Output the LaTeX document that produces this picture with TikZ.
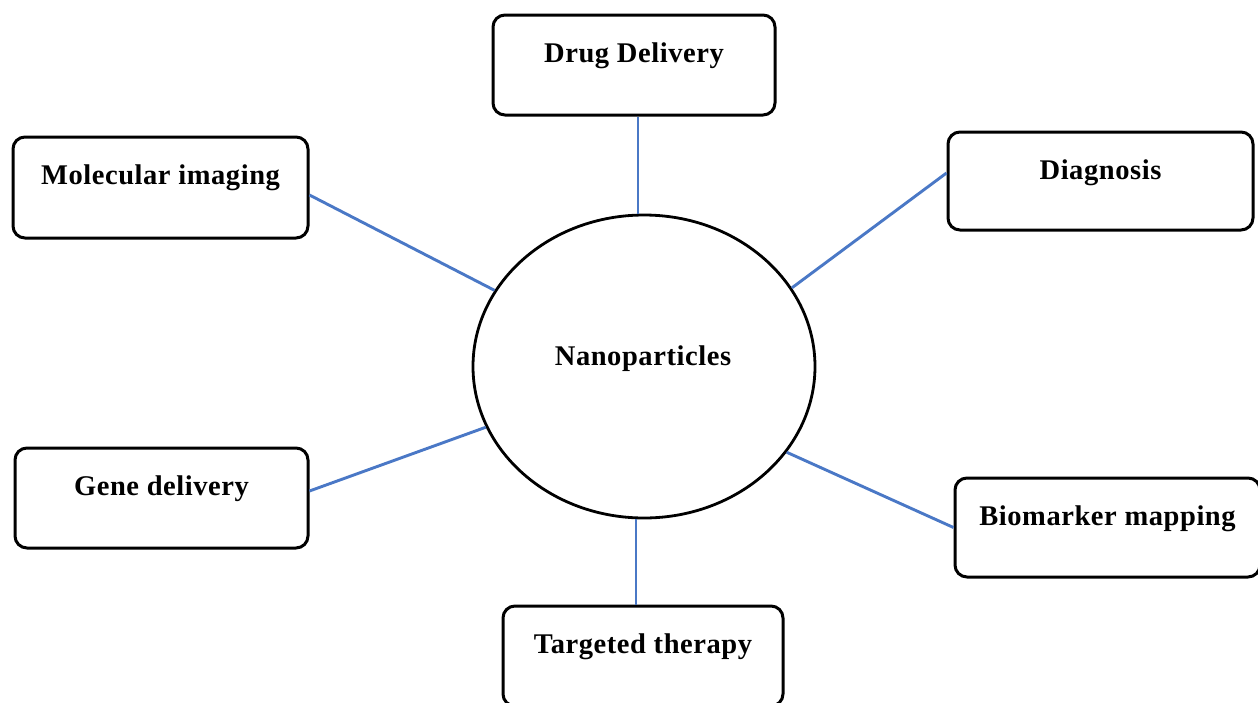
\documentclass[tikz,border=0pt]{standalone}
\usepackage{fontspec}
\setmainfont{Liberation Serif}[LetterSpace=2]
\usetikzlibrary{shapes.geometric}
\definecolor{linkblue}{HTML}{4A78C6}
\tikzset{
  box/.style={draw=black, line width=3pt, rounded corners=12pt, fill=white,
    minimum width=#1, minimum height=100pt, inner sep=0pt},
  lbl/.style={anchor=base, yshift=-49pt, inner sep=0pt,
    font=\fontsize{28.5}{30}\selectfont\bfseries},
  link/.style={draw=linkblue, line width=2.9pt},
}
\begin{document}
\begin{tikzpicture}[x=1pt,y=-1pt]
\useasboundingbox (0,0) rectangle (1258,702);
\clip (0,0) rectangle (1258,702);
% centre
\node[draw=black, line width=2.8pt, ellipse, minimum width=342pt, minimum height=303pt, inner sep=0pt] (np) at (644,366.5) {};
\node[font=\fontsize{28.5}{30}\selectfont\bfseries, anchor=base, inner sep=0pt] (nptext) at (643,365) {Nanoparticles};
% boxes
\node[box=282pt, label={[lbl]north:Drug Delivery}] (drug) at (634,65) {};
\node[box=295pt, minimum height=101pt, label={[lbl]north:Molecular imaging}] (mol) at (160.5,187.5) {};
\node[box=305pt, minimum height=98pt, label={[lbl]north:Diagnosis}] (diag) at (1100.5,181) {};
\node[box=293pt, label={[lbl]north:Gene delivery}] (gene) at (161.5,498) {};
\node[box=305pt, minimum height=99pt, label={[lbl]north:Biomarker mapping}] (bio) at (1107.5,527.5) {};
\node[box=280pt, label={[lbl]north:Targeted therapy}] (tt) at (643,656) {};
% connectors
\draw[link] ([xshift=4pt]drug.south) -- ([xshift=4pt]drug.south |- np.north);
\draw[link] ([yshift=-7.5pt]mol.east) -- (np.153.7);
\draw[link] ([yshift=8pt]diag.west) -- (np.28.6);
\draw[link] ([yshift=7pt]gene.east) -- (np.201.5);
\draw[link] (bio.west) -- (np.-31);
\draw[link] ([xshift=-7pt]tt.north) -- ([xshift=-7pt]tt.north |- np.south);
\end{tikzpicture}
\end{document}
